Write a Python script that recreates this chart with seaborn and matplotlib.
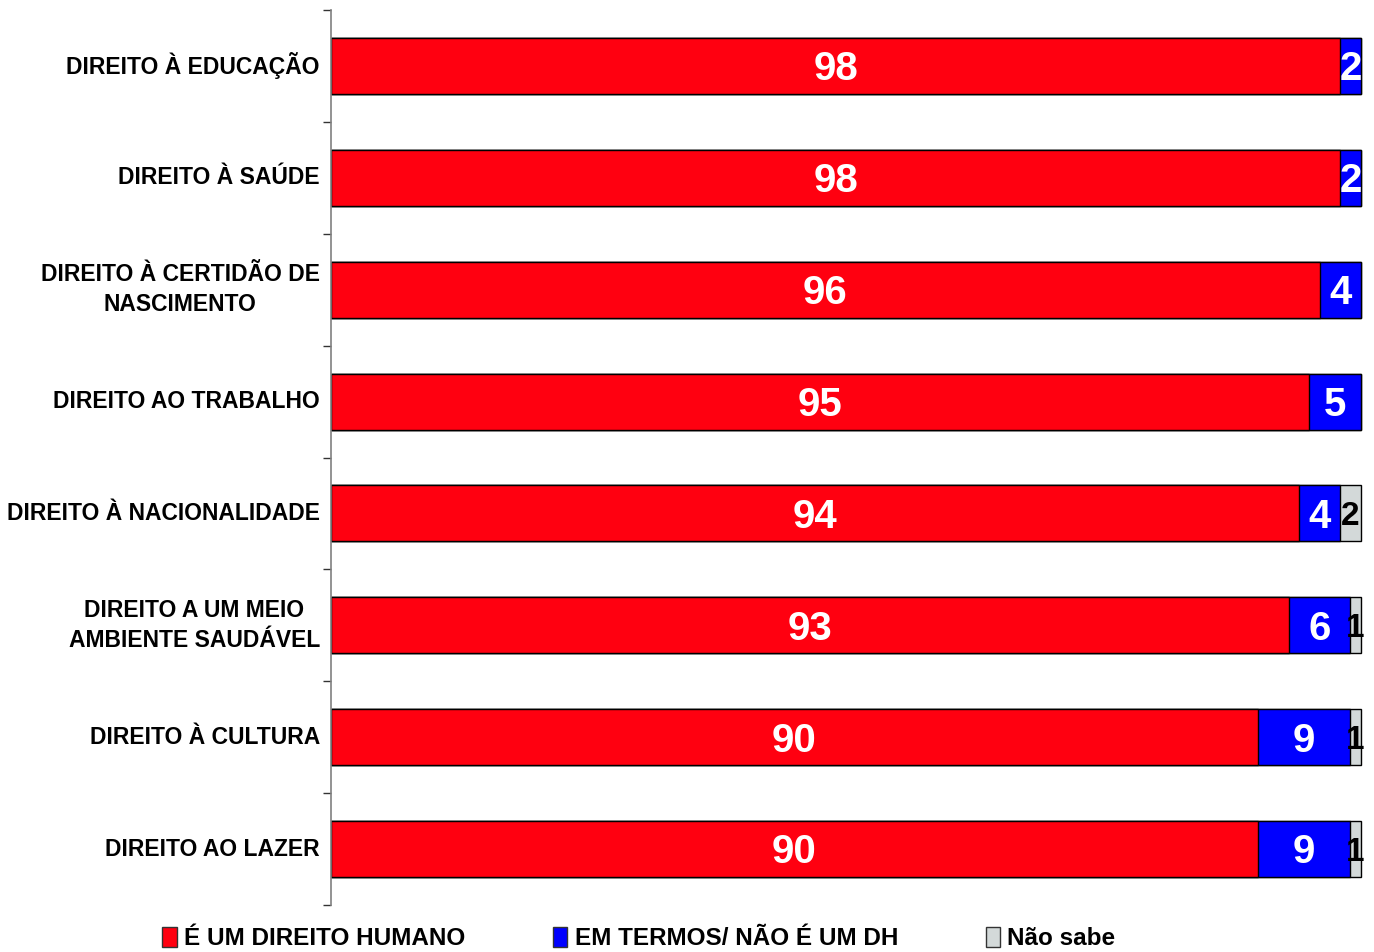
import matplotlib
matplotlib.use("Agg")
import matplotlib.pyplot as plt
import seaborn as sns
import pandas as pd
from matplotlib.patches import Patch
from matplotlib.ticker import FixedLocator

sns.set_theme(style="white")
plt.rcParams["font.family"] = ["Liberation Sans", "DejaVu Sans"]
plt.rcParams["text.color"] = "black"

categorias = [
    "DIREITO À EDUCAÇÃO",
    "DIREITO À SAÚDE",
    "DIREITO À CERTIDÃO DE\nNASCIMENTO",
    "DIREITO AO TRABALHO",
    "DIREITO À NACIONALIDADE",
    "DIREITO A UM MEIO\nAMBIENTE SAUDÁVEL",
    "DIREITO À CULTURA",
    "DIREITO AO LAZER",
]
e_direito = [98, 98, 96, 95, 94, 93, 90, 90]
nao_e = [2, 2, 4, 5, 4, 6, 9, 9]
nao_sabe = [0, 0, 0, 0, 2, 1, 1, 1]

series = ["É UM DIREITO HUMANO", "EM TERMOS/ NÃO É UM DH", "Não sabe"]
cores = ["#FF0010", "#0000FF", "#D3D9D9"]

df = pd.DataFrame({"cat": categorias, "a": e_direito, "b": nao_e, "c": nao_sabe})
df["ab"] = df["a"] + df["b"]
df["abc"] = df["ab"] + df["c"]

fig = plt.figure(figsize=(13.74, 9.52), dpi=100)
ax = fig.add_axes([331 / 1374, 1 - 905 / 952, (1370 - 331) / 1374, 895 / 952])

# camadas acumuladas: total, vermelho+azul, vermelho
for col, cor in zip(["abc", "ab", "a"], cores[::-1]):
    sns.barplot(data=df, x=col, y="cat", orient="h", color=cor, width=0.5,
                edgecolor="black", linewidth=1, saturation=1, ax=ax)

# rótulos
dy = 0.03
for i, row in df.iterrows():
    ax.text(row["a"] / 2, i + dy, str(row["a"]), ha="center", va="center",
            color="white", fontsize=29, fontweight="bold")
    ax.text(row["a"] + row["b"] / 2, i + dy, str(row["b"]), ha="center", va="center",
            color="white", fontsize=29, fontweight="bold")
    if row["c"] > 0:
        ax.text(row["ab"] + row["c"] / 2, i + dy, str(row["c"]), ha="center", va="center",
                color="black", fontsize=24, fontweight="bold")

ax.set_xlim(0, 100.9)
ax.set_ylim(7.5, -0.5)
ax.set_xlabel("")
ax.set_ylabel("")
ax.set_xticks([])
ax.yaxis.set_minor_locator(FixedLocator([i + 0.5 for i in range(-1, 8)]))
ax.tick_params(axis="y", which="major", length=0, pad=8)
ax.tick_params(axis="y", which="minor", length=6, width=1, color="#333333", left=True)
for t in ax.get_yticklabels():
    t.set_fontsize(16.5)
    t.set_fontweight("bold")
    t.set_color("black")
    t.set_verticalalignment("center")
    t.set_multialignment("center")
    t.set_linespacing(1.4)

for s in ["top", "right", "bottom"]:
    ax.spines[s].set_visible(False)
ax.spines["left"].set_color("#808080")
ax.spines["left"].set_linewidth(1.2)

handles = [Patch(facecolor=c, edgecolor="#333333", linewidth=1) for c in cores]
leg = fig.legend(handles, series, loc="center", bbox_to_anchor=(0.465, 0.014),
                 ncol=3, frameon=False, handlelength=0.6, handleheight=0.9,
                 handletextpad=0.3, columnspacing=3.6, prop={"weight": "bold", "size": 17.5})
for t in leg.get_texts():
    t.set_color("black")

fig.savefig("out.png", dpi=100)
